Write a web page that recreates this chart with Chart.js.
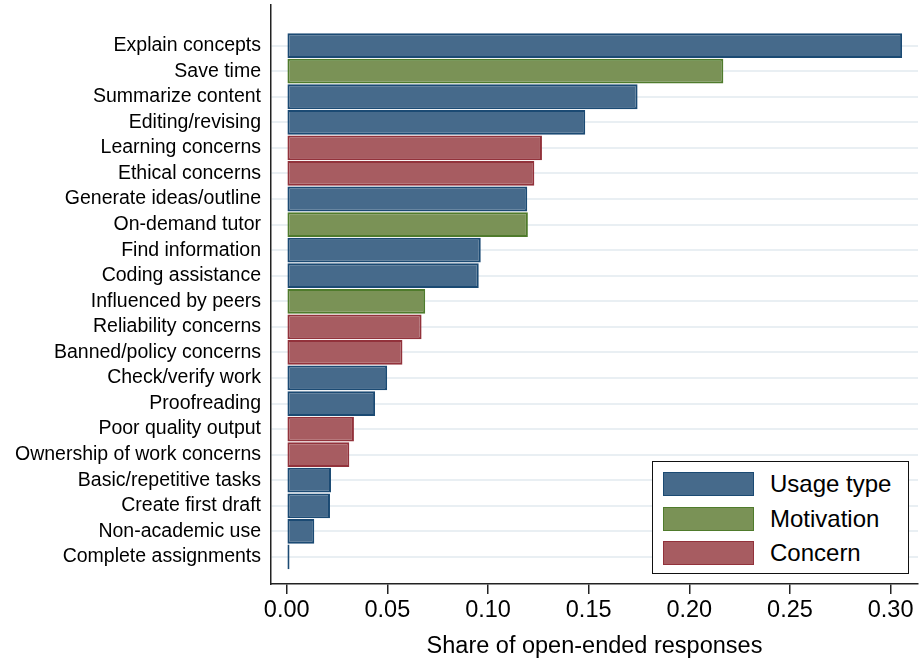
<!DOCTYPE html>
<html>
<head>
<meta charset="utf-8">
<script src="https://cdn.jsdelivr.net/npm/chart.js@4.4.1/dist/chart.umd.min.js"></script>
<style>
  html, body { margin: 0; padding: 0; background: #fff; }
  #wrap { position: relative; width: 921px; height: 665px; }
  #legend {
    position: absolute; left: 652px; top: 461px; width: 255px; height: 111px;
    border: 1.5px solid #111; background: #fff;
    font-family: "Liberation Sans", Arial, sans-serif; font-size: 24px; color: #000;
  }
  .row { position: absolute; left: 10px; height: 25px; }
  .sw { position: absolute; left: 0; top: 0; width: 89px; height: 22px; border: 1.5px solid; }
  .lbl { position: absolute; left: 107px; top: -2px; white-space: nowrap; line-height: 28px; }
</style>
</head>
<body>
<div id="wrap">
  <canvas id="chart" width="921" height="665"></canvas>
  <div id="legend"></div>
</div>
<script>
// data
var categories = ['Explain concepts', 'Save time', 'Summarize content', 'Editing/revising',
  'Learning concerns', 'Ethical concerns', 'Generate ideas/outline', 'On-demand tutor',
  'Find information', 'Coding assistance', 'Influenced by peers', 'Reliability concerns',
  'Banned/policy concerns', 'Check/verify work', 'Proofreading', 'Poor quality output',
  'Ownership of work concerns', 'Basic/repetitive tasks', 'Create first draft',
  'Non-academic use', 'Complete assignments'];
var shares = [0.3057, 0.2169, 0.1743, 0.1483, 0.1268, 0.1230, 0.1195, 0.1198, 0.0964, 0.0954,
  0.0688, 0.0670, 0.0575, 0.0499, 0.0439, 0.0334, 0.0311, 0.0220, 0.0215, 0.0137, 0.0014];
var types = ['Usage type', 'Motivation', 'Usage type', 'Usage type', 'Concern', 'Concern',
  'Usage type', 'Motivation', 'Usage type', 'Usage type', 'Motivation', 'Concern', 'Concern',
  'Usage type', 'Usage type', 'Concern', 'Concern', 'Usage type', 'Usage type', 'Usage type',
  'Usage type'];
var legendTypes = ['Usage type', 'Motivation', 'Concern'];
var xTicks = [0, 0.05, 0.10, 0.15, 0.20, 0.25, 0.30];

var fills = { 'Usage type': '#466a8b', 'Motivation': '#7a9256', 'Concern': '#a75c61' };
var edges = { 'Usage type': '#1b4a73', 'Motivation': '#4f7b2c', 'Concern': '#92323b' };

var font = '"Liberation Sans", Arial, sans-serif';

// legend box
var legend = document.getElementById('legend');
legendTypes.forEach(function(t, i) {
  var row = document.createElement('div');
  row.className = 'row';
  row.style.top = (10 + i * 34.5) + 'px';
  row.innerHTML = '<div class="sw" style="background:' + fills[t] + ';border-color:' + edges[t] + '"></div>'
    + '<div class="lbl">' + t + '</div>';
  legend.appendChild(row);
});

var ctx = document.getElementById('chart');
new Chart(ctx, {
  type: 'bar',
  data: {
    datasets: [{
      data: shares.map(function(v, i) { return { x: v, y: i }; }),
      backgroundColor: types.map(function(t) { return fills[t]; }),
      borderColor: types.map(function(t) { return edges[t]; }),
      borderWidth: 2,
      borderSkipped: false,
      barPercentage: 0.97,
      categoryPercentage: 1.0
    }]
  },
  options: {
    indexAxis: 'y',
    responsive: false,
    animation: false,
    layout: { padding: { top: 5, right: 3, left: 0, bottom: 0 } },
    plugins: { legend: { display: false }, tooltip: { enabled: false } },
    scales: {
      y: {
        type: 'linear',
        reverse: true,
        offset: false,
        min: -1.59,
        max: 21.06,
        afterBuildTicks: function(axis) {
          axis.ticks = categories.map(function(c, i) { return { value: i }; });
        },
        afterFit: function(scale) {
          scale.width = 271;
          scale.paddingTop = 0;
          scale.paddingBottom = 0;
        },
        ticks: {
          autoSkip: false,
          padding: 10,
          color: '#000',
          font: { family: font, size: 19.5 },
          callback: function(v) { return categories[v]; }
        },
        grid: { offset: false, color: '#e9eff3', lineWidth: 2, drawTicks: false },
        border: { display: true, color: '#222', width: 1.5 }
      },
      x: {
        type: 'linear',
        min: -0.0078,
        max: 0.3136,
        afterBuildTicks: function(axis) {
          axis.ticks = xTicks.map(function(v) { return { value: v }; });
        },
        afterFit: function(scale) {
          scale.height = 81;
          scale.paddingLeft = 0;
          scale.paddingRight = 0;
        },
        ticks: {
          padding: 2,
          color: '#000',
          maxRotation: 0,
          font: { family: font, size: 23.5 },
          callback: function(v) { return v.toFixed(2); }
        },
        grid: { drawOnChartArea: false, drawTicks: true, tickLength: 10, color: '#222', lineWidth: 1.5 },
        border: { display: true, color: '#222', width: 1.5 },
        title: {
          display: true,
          text: 'Share of open-ended responses',
          color: '#000',
          font: { family: font, size: 23.5 },
          padding: { top: 0, bottom: 4 }
        }
      }
    }
  }
});
</script>
</body>
</html>
